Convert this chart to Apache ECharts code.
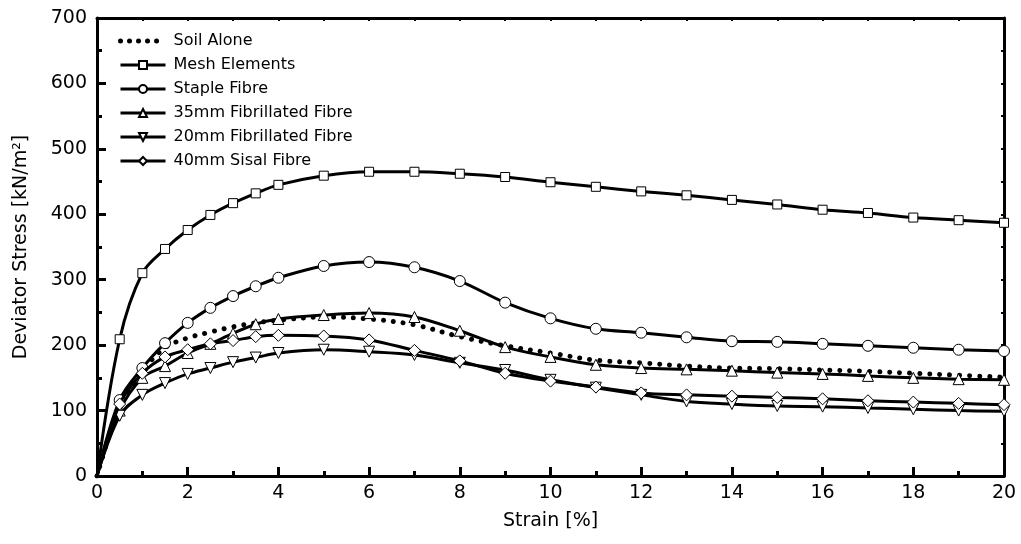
<!DOCTYPE html>
<html>
<head>
<meta charset="utf-8">
<script src="https://cdn.jsdelivr.net/npm/echarts@6/dist/echarts.min.js"></script>
<style>
  html, body { margin: 0; padding: 0; background: #fff; }
  #main { width: 1021px; height: 544px; }
</style>
</head>
<body>
<div id="main"></div>
<script>
// strain points [%]
var strain = [0, 0.5, 1, 1.5, 2, 2.5, 3, 3.5, 4, 5, 6, 7, 8, 9, 10, 11, 12, 13, 14, 15, 16, 17, 18, 19, 20];

// deviator stress [kN/m2]
var soilAlone   = [0, 105, 160, 196, 211, 220, 228, 234, 238, 243, 240, 231, 213, 199, 188, 177, 173, 168, 165, 164, 162, 160, 157, 154, 151];
var meshElem    = [0, 209, 310, 347, 376, 399, 417, 432, 445, 459, 465, 465, 462, 457, 449, 442, 435, 429, 422, 415, 407, 402, 395, 391, 387];
var stapleFibre = [0, 116, 165, 203, 234, 257, 275, 290, 303, 321, 327, 319, 298, 265, 241, 225, 219, 212, 206, 205, 202, 199, 196, 193, 191];
var fib35       = [0, 100, 150, 168, 188, 202, 218, 232, 240, 246, 249, 243, 222, 197, 182, 170, 165, 163, 161, 158, 156, 153, 150, 148, 147];
var fib20       = [0, 92, 124, 142, 156, 165, 174, 181, 188, 193, 190, 185, 173, 162, 147, 135, 124, 114, 110, 107, 106, 104, 102, 100, 99];
var sisal40     = [0, 110, 157, 182, 193, 202, 207, 213, 215, 214, 208, 192, 176, 157, 145, 136, 127, 124, 122, 120, 118, 115, 113, 111, 109];

var names = ['Soil Alone', 'Mesh Elements', 'Staple Fibre', '35mm Fibrillated Fibre', '20mm Fibrillated Fibre', '40mm Sisal Fibre'];
var values = [soilAlone, meshElem, stapleFibre, fib35, fib20, sisal40];
var symbols = ['none', 'rect', 'circle', 'triangle', 'path://M0,0 L10,0 L5,10 Z', 'diamond'];
var sizes = [0, 9, 11, 11, 11, 12];

var FONT = 'DejaVu Sans';
var dotted = { color: '#000', width: 5, type: [0.01, 10], cap: 'round' };

function pairs(arr) {
    return strain.map(function (x, i) {
        // no marker at the origin
        if (i === 0) return { value: [x, arr[i]], symbolSize: 0 };
        return [x, arr[i]];
    });
}

var series = names.map(function (n, k) {
    var s = {
        name: n,
        type: 'line',
        smooth: 0.35,
        data: pairs(values[k]),
        symbol: symbols[k],
        symbolSize: sizes[k],
        showAllSymbol: true,
        itemStyle: { color: '#fff', borderColor: '#000', borderWidth: 1 },
        lineStyle: { color: '#000', width: 3 },
        emphasis: { disabled: true },
        z: 2 + k
    };
    if (k === 0) {
        s.lineStyle = dotted;
        s.itemStyle = { color: '#000' };
    }
    return s;
});

var legendData = names.map(function (n, k) {
    if (k === 0) {
        return { name: n, itemStyle: { opacity: 0 }, lineStyle: { color: '#000', width: 5, type: [0.01, 9], cap: 'round' } };
    }
    return { name: n, lineStyle: { color: '#000', width: 3 } };
});

var axisLine = { show: true, onZero: false, lineStyle: { color: '#000', width: 3 } };

var option = {
    animation: false,
    backgroundColor: '#fff',
    grid: { left: 97, right: 17, top: 18, bottom: 68 },
    legend: {
        orient: 'vertical',
        left: 113,
        top: 28,
        itemWidth: 45,
        itemHeight: 10,
        itemGap: 8,
        textStyle: { fontFamily: FONT, fontSize: 16, color: '#000', padding: [0, 0, 0, 3] },
        data: legendData
    },
    xAxis: [{
        type: 'value', min: 0, max: 20, interval: 2,
        position: 'bottom',
        name: 'Strain [%]', nameLocation: 'middle', nameGap: 36,
        nameTextStyle: { fontFamily: FONT, fontSize: 19, color: '#000' },
        axisLine: axisLine,
        axisTick: { inside: true, length: 9, lineStyle: { color: '#000', width: 3 } },
        minorTick: { show: true, splitNumber: 2, length: 5, lineStyle: { color: '#000', width: 3 } },
        splitLine: { show: false },
        axisLabel: { fontFamily: FONT, fontSize: 19, color: '#000', margin: 8 }
    }, {
        type: 'value', min: 0, max: 20, interval: 1,
        position: 'top',
        axisLine: axisLine,
        axisTick: { inside: true, length: 3, lineStyle: { color: '#000', width: 2 } },
        splitLine: { show: false },
        axisLabel: { show: false }
    }],
    yAxis: [{
        type: 'value', min: 0, max: 700, interval: 100,
        position: 'left',
        name: 'Deviator Stress [kN/m²]', nameLocation: 'middle', nameGap: 66,
        nameTextStyle: { fontFamily: FONT, fontSize: 19, color: '#000' },
        axisLine: axisLine,
        axisTick: { inside: true, length: 9, lineStyle: { color: '#000', width: 3 } },
        minorTick: { show: true, splitNumber: 2, length: 5, lineStyle: { color: '#000', width: 3 } },
        splitLine: { show: false },
        axisLabel: { fontFamily: FONT, fontSize: 19, color: '#000', margin: 10 }
    }, {
        type: 'value', min: 0, max: 700, interval: 50,
        position: 'right',
        axisLine: axisLine,
        axisTick: { inside: true, length: 3, lineStyle: { color: '#000', width: 2 } },
        splitLine: { show: false },
        axisLabel: { show: false }
    }],
    series: series
};

var myChart = echarts.init(document.getElementById('main'));
myChart.setOption(option);
</script>
</body>
</html>
